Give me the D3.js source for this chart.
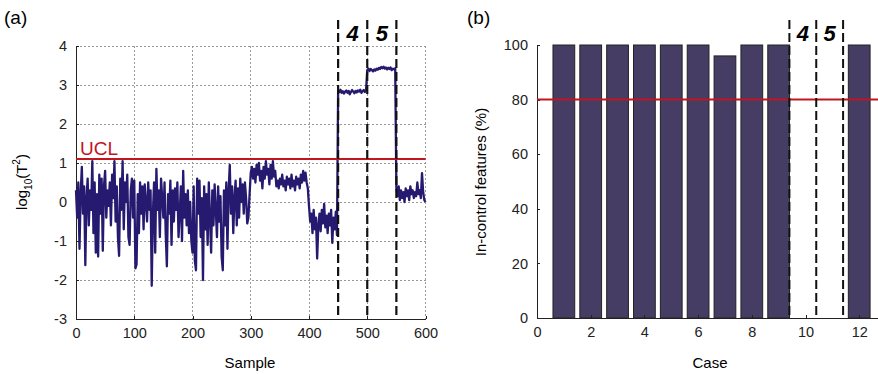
<!DOCTYPE html>
<meta charset="utf-8">
<style>
body { margin: 0; background: #fff; }
svg { font-family: "Liberation Sans", Arial, sans-serif; }
.axis path, .axis line { stroke: #222; shape-rendering: crispEdges; }
.axis text { font-size: 14.5px; fill: #222; }
.grid line { stroke: #999; stroke-dasharray: 1.5,2.5; shape-rendering: crispEdges; }
</style>
<body>
<script src="https://d3js.org/d3.v7.min.js"></script>
<script>

// panel (a): log10(T^2) per sample, read every 2 samples
var sampleStep = 2;
var t2Values = [
  0.3,-0.4,0.5,-1.2,0.2,0.9,-0.3,0.4,-1.62,0.1,
  0.6,-0.6,0.3,-0.2,1.05,-0.8,0.5,-1.3,0.2,-1.4,
  0.7,-0.3,0.6,-1.25,0.4,0.8,-0.4,0.3,-0.1,0.5,
  -0.6,0.7,0.1,1.05,-0.5,0.4,-0.9,-1.38,0.6,-0.2,
  1.05,-0.7,0.5,0.0,0.7,-0.9,-1.1,0.3,0.6,-0.4,
  0.55,-1.7,-1.6,0.2,-0.8,0.5,-0.3,0.4,-0.7,0.45,
  0.0,-0.5,0.5,-0.2,0.3,-2.15,-0.3,0.5,-1.3,0.85,
  -0.2,0.3,-0.9,0.6,0.1,-0.4,0.5,-0.8,-1.65,0.2,
  -0.3,0.55,-1.1,0.3,-0.5,0.35,-0.2,0.5,-0.9,-0.3,
  0.4,-1.0,0.8,-0.4,0.2,-0.6,0.3,-0.8,0.0,-1.0,
  -1.3,0.4,-1.5,-1.75,0.6,-0.3,0.55,-0.9,0.1,-2.0,
  0.4,-0.7,0.2,-1.1,0.5,-0.4,-1.3,0.3,-0.6,0.45,
  -0.2,-0.9,0.4,-0.5,0.15,-1.4,-1.75,0.3,-0.6,0.5,
  -1.2,0.3,0.95,-0.3,0.4,-0.8,0.1,0.55,-0.6,0.35,
  -0.4,0.6,0.0,0.45,-0.3,0.5,0.1,-0.55,-0.4,0.2,
  // 300-398
  0.75,0.9,0.6,0.85,0.5,0.95,0.7,1.0,0.55,0.8,
  0.35,0.9,0.6,1.05,0.7,0.85,0.45,0.95,0.6,1.05,
  0.65,0.8,0.4,0.55,0.35,0.6,0.45,0.7,0.4,0.55,
  0.3,0.65,0.45,0.6,0.35,0.7,0.4,0.55,0.3,0.65,
  0.45,0.6,0.35,0.7,0.5,0.8,0.55,0.75,0.5,0.35,
  // 400-448
  -0.1,-0.5,-0.3,-0.8,-0.2,-0.7,-0.4,-1.45,-0.6,-0.3,
  -0.75,-0.2,-0.55,-0.05,-0.65,-0.35,-0.8,-0.3,-0.6,-0.2,
  -1.05,-0.4,-0.7,-0.25,-0.85,
  // 450-498 (case 4)
  2.85,2.82,2.88,2.8,2.84,2.78,2.83,2.86,2.8,2.85,
  2.76,2.82,2.87,2.83,2.79,2.85,2.81,2.86,2.83,2.88,
  2.8,2.84,2.87,2.82,2.88,
  // 500-548 (case 5)
  3.38,3.42,3.36,3.41,3.38,3.35,3.4,3.37,3.42,3.39,
  3.44,3.41,3.46,3.43,3.47,3.42,3.45,3.4,3.44,3.41,
  3.45,3.38,3.42,3.4,3.43,
  // 550-600
  0.35,0.15,0.4,0.05,0.3,0.1,0.25,0.0,0.35,0.15,
  0.3,0.05,0.4,0.2,0.3,0.1,0.25,0.15,0.5,0.2,
  0.3,0.1,0.74,0.25,0.05,0.0
];
var uclValue = 1.1;
var sampleTicks = [0, 100, 200, 300, 400, 500, 600];
var t2Ticks = [-3, -2, -1, 0, 1, 2, 3, 4];
var faultBoundsA = [450, 500, 550];

// panel (b): in-control features per case
var cases = [1, 2, 3, 4, 5, 6, 7, 8, 9, 10, 11, 12];
var inControl = [100, 100, 100, 100, 100, 100, 96, 100, 100, 0, 0, 100];
var threshold = 80;
var caseTicks = [0, 2, 4, 6, 8, 10, 12];
var pctTicks = [0, 20, 40, 60, 80, 100];
var faultBoundsB = [9.4, 10.4, 11.4];
var faultLabels = ["4", "5"];

var plain = function(d) { return String(d); }; // hyphen minus like the original

var svg = d3.select("body").append("svg")
    .attr("width", 878)
    .attr("height", 374);

// ---------- panel (a) ----------
var xa = d3.scaleLinear().domain([0, 600]).range([76, 425.5]);
var ya = d3.scaleLinear().domain([-3, 4]).range([319, 46]);

var ga = svg.append("g");

ga.append("g").attr("class", "grid")
  .selectAll("line.v").data(sampleTicks.slice(1))
  .enter().append("line")
    .attr("x1", xa).attr("x2", xa)
    .attr("y1", ya(4)).attr("y2", ya(-3));
ga.append("g").attr("class", "grid")
  .selectAll("line.h").data(t2Ticks.slice(1))
  .enter().append("line")
    .attr("x1", xa(0)).attr("x2", xa(600))
    .attr("y1", ya).attr("y2", ya);

ga.append("g")
    .attr("class", "axis")
    .attr("transform", "translate(0," + ya(-3) + ")")
    .call(d3.axisBottom(xa).tickValues(sampleTicks).tickFormat(plain)
      .tickSizeInner(-3).tickSizeOuter(0).tickPadding(9));

ga.append("g")
    .attr("class", "axis")
    .attr("transform", "translate(" + xa(0) + ",0)")
    .call(d3.axisLeft(ya).tickValues(t2Ticks).tickFormat(plain)
      .tickSizeInner(-3).tickSizeOuter(0).tickPadding(9));

var line = d3.line()
    .x(function(d, i) { return xa(i * sampleStep); })
    .y(function(d) { return ya(d); });

ga.append("path")
    .datum(t2Values)
    .attr("fill", "none")
    .attr("stroke", "#251a70")
    .attr("stroke-width", 2.3)
    .attr("stroke-linejoin", "round")
    .attr("d", line);

ga.append("line")
    .attr("x1", xa(0)).attr("x2", xa(600))
    .attr("y1", ya(uclValue)).attr("y2", ya(uclValue))
    .attr("stroke", "#c1151f").attr("stroke-width", 2);

ga.append("text")
    .attr("x", xa(0) + 4).attr("y", ya(uclValue) - 4)
    .attr("fill", "#c1151f")
    .style("font-size", "19px")
    .text("UCL");

ga.selectAll("line.fault").data(faultBoundsA)
  .enter().append("line")
    .attr("x1", xa).attr("x2", xa)
    .attr("y1", 20).attr("y2", ya(-3))
    .attr("stroke", "#111").attr("stroke-width", 2.2)
    .attr("stroke-dasharray", "9,4");

ga.selectAll("text.fault").data(faultLabels)
  .enter().append("text")
    .attr("x", function(d, i) { return (xa(faultBoundsA[i]) + xa(faultBoundsA[i + 1])) / 2; })
    .attr("y", 41)
    .attr("text-anchor", "middle")
    .style("font-size", "22px").style("font-weight", "bold").style("font-style", "italic")
    .text(function(d) { return d; });

ga.append("text")
    .attr("x", 250).attr("y", 368)
    .attr("text-anchor", "middle")
    .style("font-size", "15px")
    .text("Sample");

var ylab = ga.append("text")
    .attr("transform", "translate(27,182) rotate(-90)")
    .attr("text-anchor", "middle")
    .style("font-size", "15px");
ylab.append("tspan").text("log");
ylab.append("tspan").attr("dy", 5).style("font-size", "10px").text("10");
ylab.append("tspan").attr("dy", -5).text("(T");
ylab.append("tspan").attr("dy", -7).style("font-size", "10px").text("2");
ylab.append("tspan").attr("dy", 7).text(")");

ga.append("text")
    .attr("x", 4).attr("y", 24)
    .style("font-size", "19px")
    .text("(a)");

// ---------- panel (b) ----------
var xb = d3.scaleLinear().domain([0, 12.7]).range([537, 878]);
var yb = d3.scaleLinear().domain([0, 100]).range([318, 45]);
var barW = 0.81;

var gb = svg.append("g");

gb.selectAll("rect.bar").data(cases)
  .enter().append("rect")
    .attr("x", function(d) { return xb(d - barW / 2); })
    .attr("width", function(d) { return xb(barW) - xb(0); })
    .attr("y", function(d, i) { return yb(inControl[i]); })
    .attr("height", function(d, i) { return yb(0) - yb(inControl[i]); })
    .attr("fill", "#463d64")
    .attr("stroke", "#222")
    .attr("stroke-width", 1);

gb.append("g")
    .attr("class", "axis")
    .attr("transform", "translate(0," + yb(0) + ")")
    .call(d3.axisBottom(xb).tickValues(caseTicks).tickFormat(plain)
      .tickSizeInner(-3).tickSizeOuter(0).tickPadding(9));

gb.append("g")
    .attr("class", "axis")
    .attr("transform", "translate(" + xb(0) + ",0)")
    .call(d3.axisLeft(yb).tickValues(pctTicks).tickFormat(plain)
      .tickSizeInner(-3).tickSizeOuter(0).tickPadding(9));

gb.append("line")
    .attr("x1", xb(0)).attr("x2", xb(12.7))
    .attr("y1", yb(threshold)).attr("y2", yb(threshold))
    .attr("stroke", "#c1151f").attr("stroke-width", 2);

gb.selectAll("line.fault").data(faultBoundsB)
  .enter().append("line")
    .attr("x1", xb).attr("x2", xb)
    .attr("y1", 20).attr("y2", yb(0))
    .attr("stroke", "#111").attr("stroke-width", 2)
    .attr("stroke-dasharray", "9,4");

gb.selectAll("text.fault").data(faultLabels)
  .enter().append("text")
    .attr("x", function(d, i) { return (xb(faultBoundsB[i]) + xb(faultBoundsB[i + 1])) / 2; })
    .attr("y", 41)
    .attr("text-anchor", "middle")
    .style("font-size", "22px").style("font-weight", "bold").style("font-style", "italic")
    .text(function(d) { return d; });

gb.append("text")
    .attr("x", 710).attr("y", 368)
    .attr("text-anchor", "middle")
    .style("font-size", "15px")
    .text("Case");

gb.append("text")
    .attr("transform", "translate(486,182) rotate(-90)")
    .attr("text-anchor", "middle")
    .style("font-size", "15px")
    .text("In-control features (%)");

gb.append("text")
    .attr("x", 467).attr("y", 24)
    .style("font-size", "19px")
    .text("(b)");

</script>
